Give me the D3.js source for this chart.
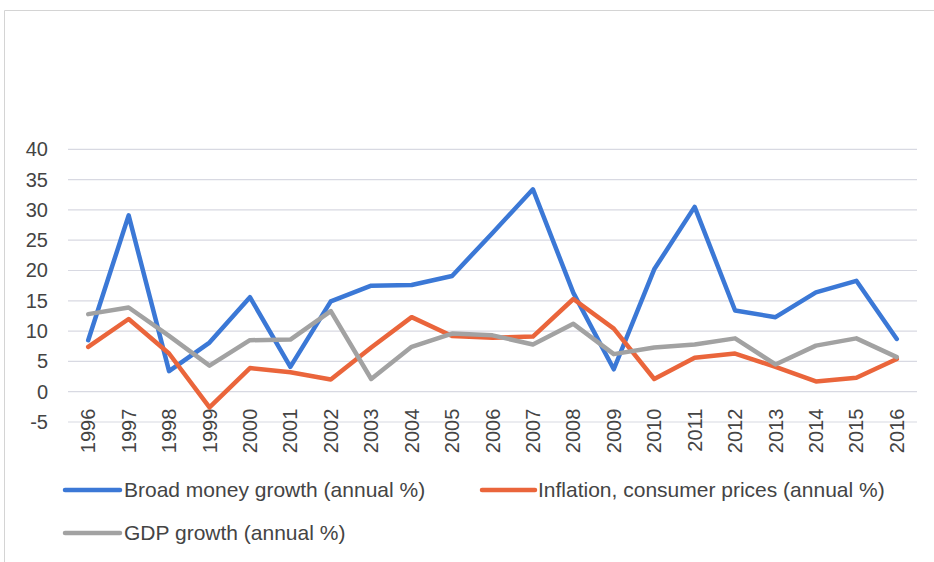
<!DOCTYPE html>
<html>
<head>
<meta charset="utf-8">
<script src="https://cdn.jsdelivr.net/npm/d3@7"></script>
<style>
  html, body { margin: 0; padding: 0; background: #fff; }
  svg { display: block; }
  text { font-family: "Liberation Sans", Arial, sans-serif; fill: #444; }
</style>
</head>
<body>
<svg id="chart" width="934" height="562"></svg>
<script>
// Years on the category axis
const years = ["1996","1997","1998","1999","2000","2001","2002","2003","2004","2005","2006",
               "2007","2008","2009","2010","2011","2012","2013","2014","2015","2016"];

// Annual % values per series
const broadMoney = [8.5, 29.1, 3.4, 8.1, 15.6, 4.1, 14.9, 17.5, 17.6, 19.1, 26.2,
                    33.4, 16.3, 3.7, 20.2, 30.5, 13.4, 12.3, 16.4, 18.3, 8.7];
const inflation  = [7.4, 12.0, 6.3, -2.6, 3.9, 3.2, 2.0, 7.3, 12.3, 9.2, 8.9,
                    9.1, 15.3, 10.4, 2.1, 5.6, 6.3, 4.1, 1.7, 2.3, 5.4];
const gdpGrowth  = [12.8, 13.9, 9.2, 4.3, 8.5, 8.6, 13.3, 2.1, 7.4, 9.6, 9.3,
                    7.8, 11.2, 6.2, 7.3, 7.8, 8.8, 4.5, 7.6, 8.8, 5.7];

const yTicks = [-5, 0, 5, 10, 15, 20, 25, 30, 35, 40];

const seriesNames  = ["Broad money growth (annual %)", "Inflation, consumer prices (annual %)", "GDP growth (annual %)"];
const seriesColors = ["#3b78d6", "#ea653b", "#a2a2a2"];

const series = [broadMoney, inflation, gdpGrowth].map((values, i) => ({
  name: seriesNames[i], color: seriesColors[i], values
}));

const svg = d3.select("#chart");

// Outer frame (top and left edges)
svg.append("path")
  .attr("d", "M4.5,600 V10.5 H934")
  .attr("fill", "none").attr("stroke", "#d4d4d4").attr("stroke-width", 1);

const plot = { left: 68, right: 917, top: 149.3, bottom: 422 };

const x = d3.scaleBand().domain(years).range([plot.left, plot.right]);
const y = d3.scaleLinear().domain([-5, 40]).range([plot.bottom, plot.top]);

// Horizontal gridlines
svg.append("g").selectAll("line").data(yTicks).join("line")
  .attr("x1", plot.left).attr("x2", plot.right)
  .attr("y1", d => y(d)).attr("y2", d => y(d))
  .attr("stroke", "#d8d9e2").attr("stroke-width", 1.2);

// Y axis labels (plain hyphen for negatives)
const yAxis = svg.append("g")
  .attr("transform", `translate(${plot.left - 20},0)`)
  .call(d3.axisLeft(y).tickValues(yTicks).tickSize(0).tickPadding(0)
    .tickFormat(d => String(d)));
yAxis.select(".domain").remove();
yAxis.selectAll("text")
  .attr("font-size", 20).attr("fill", "#444")
  .style("font-family", "'Liberation Sans', Arial, sans-serif");

// X axis labels, rotated
const xAxis = svg.append("g")
  .attr("transform", `translate(0,${y(0)})`)
  .call(d3.axisBottom(x).tickSize(0).tickPadding(0));
xAxis.select(".domain").remove();
xAxis.selectAll("text")
  .attr("font-size", 20).attr("fill", "#444")
  .style("font-family", "'Liberation Sans', Arial, sans-serif")
  .attr("text-anchor", "end")
  .attr("dy", null)
  .attr("transform", "translate(7,17) rotate(-90)");

// Series lines
const line = d3.line()
  .x((d, i) => x(years[i]) + x.bandwidth() / 2)
  .y(d => y(d));

svg.append("g").selectAll("path").data(series).join("path")
  .attr("d", d => line(d.values))
  .attr("fill", "none")
  .attr("stroke", d => d.color)
  .attr("stroke-width", 4.5)
  .attr("stroke-linejoin", "round")
  .attr("stroke-linecap", "round");

// Legend
const legendPos = [[65, 490], [482, 490], [65, 533]];
const legend = svg.append("g").selectAll("g").data(series).join("g")
  .attr("transform", (d, i) => `translate(${legendPos[i][0]},${legendPos[i][1]})`);
legend.append("line")
  .attr("x1", 0).attr("x2", (d, i) => i === 1 ? 53 : 55)
  .attr("stroke", d => d.color).attr("stroke-width", 4.5).attr("stroke-linecap", "round");
legend.append("text")
  .attr("x", (d, i) => i === 1 ? 56 : 59)
  .attr("dy", "0.35em")
  .attr("font-size", 21)
  .text(d => d.name);
</script>
</body>
</html>
